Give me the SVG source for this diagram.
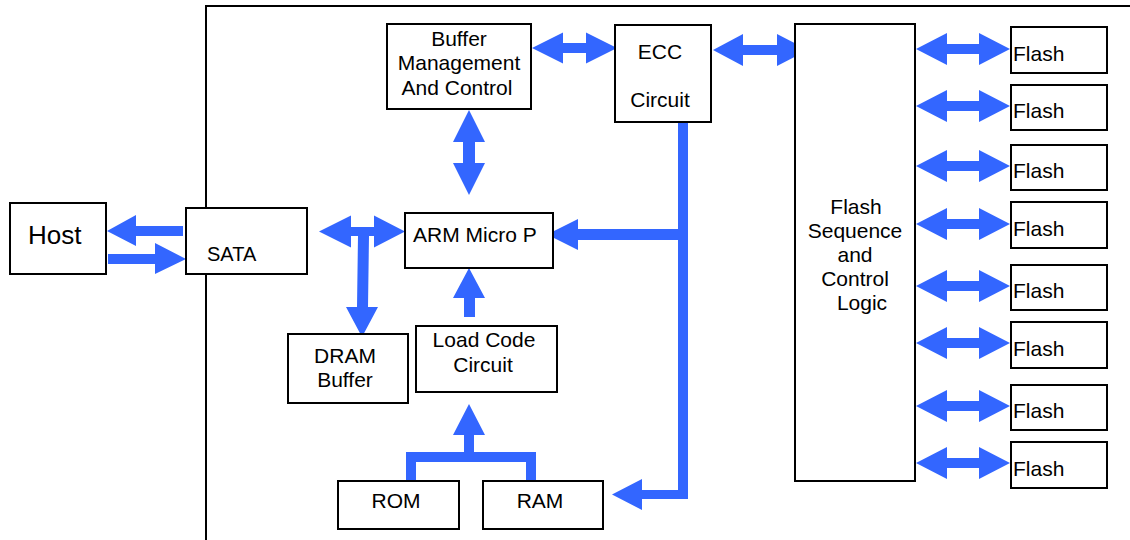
<svg xmlns="http://www.w3.org/2000/svg" width="1130" height="540" viewBox="0 0 1130 540">
<style>
.box{fill:#fff;stroke:#000;stroke-width:2}
.t{font-family:"Liberation Sans",Arial,sans-serif;font-size:21px;fill:#000}
.c{text-anchor:middle}
.ar{fill:#3366FF;stroke:none}
.frame{fill:none;stroke:#000;stroke-width:2}
</style>
<rect width="1130" height="540" fill="#fff"/>
<path class="frame" d="M206,540 V6 H1130"/>
<g id="connectors">
<!-- Host <-> SATA -->
<polygon class="ar" points="107,231 136,215 136,226 183,226 183,236 136,236 136,246"/>
<polygon class="ar" points="186,259 155,243 155,254 108,254 108,264 155,264 155,274"/>
<!-- Buffer <-> ECC -->
<polygon class="ar" points="532,48 563,32.5 563,43 586,43 586,32.5 617,48 586,63.5 586,53 563,53 563,63.5"/>
<!-- ECC <-> Flash Seq -->
<polygon class="ar" points="713,50 743,34 743,45 777,45 777,34 808,50 777,66 777,55 743,55 743,66"/>
<!-- Flash arrows -->
<g id="flash-arrows">
<polygon class="ar" points="916,49 947,33 947,44 979,44 979,33 1010,49 979,65 979,54 947,54 947,65"/>
<polygon class="ar" points="916,106 947,90 947,101 979,101 979,90 1010,106 979,122 979,111 947,111 947,122"/>
<polygon class="ar" points="916,166 947,150 947,161 979,161 979,150 1010,166 979,182 979,171 947,171 947,182"/>
<polygon class="ar" points="916,224 947,208 947,219 979,219 979,208 1010,224 979,240 979,229 947,229 947,240"/>
<polygon class="ar" points="916,286 947,270 947,281 979,281 979,270 1010,286 979,302 979,291 947,291 947,302"/>
<polygon class="ar" points="916,343 947,327 947,338 979,338 979,327 1010,343 979,359 979,348 947,348 947,359"/>
<polygon class="ar" points="916,406 947,390 947,401 979,401 979,390 1010,406 979,422 979,411 947,411 947,422"/>
<polygon class="ar" points="916,463 947,447 947,458 979,458 979,447 1010,463 979,479 979,468 947,468 947,479"/>
</g>
<!-- Buffer <-> ARM vertical -->
<polygon class="ar" points="469,110 485,142 475,142 475,163 485,163 469,195 453,163 463,163 463,142 453,142"/>
<!-- SATA <-> ARM with branch to DRAM -->
<polygon class="ar" points="319,231.5 351,215.5 351,227 374,227 374,215.5 405,231.5 374,247.5 374,236 369,236 368,307 378,307 362,337 346,307 357,307 358,236 351,236 351,247.5"/>
<!-- Load Code -> ARM -->
<polygon class="ar" points="469,268 485,298 475,298 475,317 464,317 464,298 453,298"/>
<!-- ROM/RAM -> Load Code -->
<polygon class="ar" points="469,404 485,435 474,435 474,452 536,452 536,481 526,481 526,462 416,462 416,481 406,481 406,452 464,452 464,435 453,435"/>
<!-- ECC bus -->
<polygon class="ar" points="678,116 688,116 688,499 642,499 642,510 612,494.5 642,479 642,490 678,490 678,240 578,240 578,250 547,234.5 578,219 578,229 678,229"/>
</g>
<g id="host"><rect class="box" x="10" y="203" width="96" height="71"/><text class="t" x="28" y="244" style="font-size:26px">Host</text></g>
<g id="sata"><rect class="box" x="186" y="208" width="121" height="66"/><text class="t" x="207" y="261" style="font-size:20px">SATA</text></g>
<g id="buffer"><rect class="box" x="387" y="24" width="144" height="85"/>
<text class="t c" x="459" y="46">Buffer</text><text class="t c" x="459" y="70">Management</text><text class="t c" x="457" y="95">And Control</text></g>
<g id="ecc"><rect class="box" x="615" y="25" width="96" height="97"/>
<text class="t c" x="660" y="59">ECC</text><text class="t c" x="660" y="107">Circuit</text></g>
<g id="arm"><rect class="box" x="405" y="213" width="148" height="55"/><text class="t" x="413" y="242">ARM Micro P</text></g>
<g id="dram"><rect class="box" x="288" y="334" width="120" height="69"/>
<text class="t c" x="345" y="363">DRAM</text><text class="t c" x="345" y="387">Buffer</text></g>
<g id="loadcode"><rect class="box" x="416" y="326" width="141" height="66"/>
<text class="t c" x="484" y="347">Load Code</text><text class="t c" x="483" y="372">Circuit</text></g>
<g id="rom"><rect class="box" x="338" y="481" width="121" height="48"/><text class="t c" x="396" y="508">ROM</text></g>
<g id="ram"><rect class="box" x="483" y="481" width="120" height="48"/><text class="t c" x="540" y="508">RAM</text></g>
<g id="flashseq"><rect class="box" x="795" y="24" width="120" height="457"/>
<text class="t c" x="856" y="214">Flash</text><text class="t c" x="855" y="238">Sequence</text><text class="t c" x="855" y="262">and</text><text class="t c" x="855" y="286">Control</text><text class="t c" x="862" y="310">Logic</text></g>
<g id="flash1"><rect class="box" x="1011" y="27" width="96" height="46"/><text class="t" x="1013" y="61">Flash</text></g>
<g id="flash2"><rect class="box" x="1011" y="85" width="96" height="45"/><text class="t" x="1013" y="118">Flash</text></g>
<g id="flash3"><rect class="box" x="1011" y="145" width="96" height="45"/><text class="t" x="1013" y="178">Flash</text></g>
<g id="flash4"><rect class="box" x="1011" y="202" width="96" height="46"/><text class="t" x="1013" y="236">Flash</text></g>
<g id="flash5"><rect class="box" x="1011" y="265" width="96" height="45"/><text class="t" x="1013" y="298">Flash</text></g>
<g id="flash6"><rect class="box" x="1011" y="322" width="96" height="46"/><text class="t" x="1013" y="356">Flash</text></g>
<g id="flash7"><rect class="box" x="1011" y="385" width="96" height="45"/><text class="t" x="1013" y="418">Flash</text></g>
<g id="flash8"><rect class="box" x="1011" y="442" width="96" height="46"/><text class="t" x="1013" y="476">Flash</text></g>
</svg>
